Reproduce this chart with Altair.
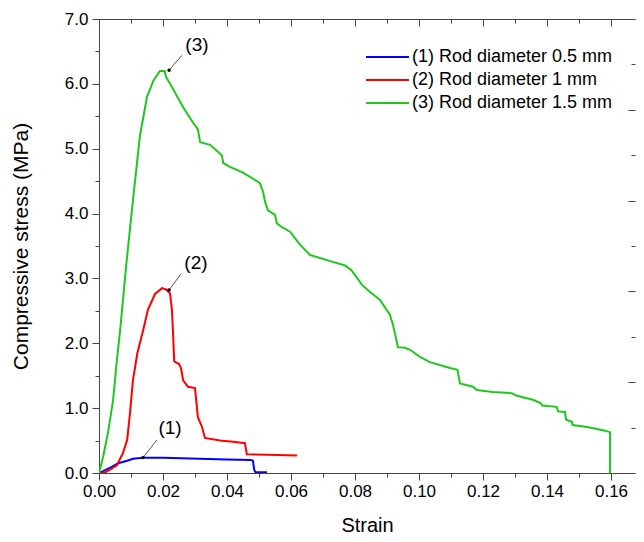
import altair as alt
import pandas as pd

FONT = "Liberation Sans"

series_names = ["(1) Rod diameter 0.5 mm", "(2) Rod diameter 1 mm", "(3) Rod diameter 1.5 mm"]
series_colors = ["#0000ff", "#ff0000", "#1ec81e"]

# (1) Rod diameter 0.5 mm
blue_strain = [0, 0.0034, 0.006, 0.0088, 0.0106, 0.0138, 0.02, 0.0313, 0.04, 0.0475, 0.0481, 0.0485, 0.0489, 0.0525]
blue_stress = [0, 0.08, 0.15, 0.19, 0.22, 0.235, 0.235, 0.22, 0.21, 0.2, 0.19, 0.05, 0.01, 0.01]

# (2) Rod diameter 1 mm
red_strain = [0, 0.002, 0.0034, 0.0056, 0.0075, 0.0088, 0.0097, 0.0106, 0.012, 0.0138,
              0.0153, 0.0175, 0.0197, 0.021, 0.0222, 0.0228, 0.0231, 0.0235, 0.025, 0.0256,
              0.0263, 0.0278, 0.03, 0.0309, 0.0322, 0.0331, 0.0378, 0.0419, 0.0456, 0.0462,
              0.0525, 0.0619]
red_stress = [0, 0.01, 0.05, 0.12, 0.31, 0.51, 0.93, 1.43, 1.85, 2.2,
              2.52, 2.76, 2.85, 2.83, 2.77, 2.51, 2.2, 1.72, 1.68, 1.62,
              1.43, 1.33, 1.31, 0.86, 0.71, 0.54, 0.5, 0.48, 0.46, 0.29,
              0.28, 0.27]

# (3) Rod diameter 1.5 mm
green_strain = [0, 0.0013, 0.0028, 0.0044, 0.0055, 0.0066, 0.0085, 0.0106, 0.0128,
                0.015, 0.017, 0.019, 0.0205, 0.021, 0.0219, 0.0263, 0.0294, 0.0309, 0.0316,
                0.0347, 0.0384, 0.0388, 0.0409, 0.045, 0.0503, 0.0513, 0.0519, 0.0528, 0.055,
                0.0556, 0.0572, 0.0597, 0.0628, 0.066, 0.072, 0.0769, 0.0788, 0.080, 0.0822,
                0.0847, 0.0878, 0.0909, 0.0919, 0.0934, 0.0955, 0.0972, 0.1003, 0.1034, 0.1097,
                0.112, 0.1128, 0.1169, 0.118, 0.123, 0.129, 0.1306, 0.1356, 0.138, 0.1385,
                0.143, 0.1435, 0.1456, 0.146, 0.1478, 0.148, 0.1525, 0.1575, 0.1597, 0.1597]
green_stress = [0, 0.25, 0.62, 1.12, 1.7, 2.2, 3.2, 4.2, 5.2,
                5.8, 6.05, 6.2, 6.2, 6.1, 6.03, 5.64, 5.4, 5.3, 5.1,
                5.06, 4.9, 4.78, 4.72, 4.63, 4.47, 4.33, 4.18, 4.05, 3.98,
                3.85, 3.79, 3.72, 3.52, 3.36, 3.27, 3.2, 3.13, 3.05, 2.9,
                2.79, 2.67, 2.44, 2.28, 1.94, 1.93, 1.9, 1.79, 1.71, 1.62,
                1.59, 1.38, 1.33, 1.28, 1.25, 1.23, 1.19, 1.13, 1.08, 1.04,
                1.02, 0.95, 0.94, 0.82, 0.79, 0.74, 0.71, 0.66, 0.63, 0]

# annotations
annot_labels = ["(1)", "(2)", "(3)"]
annot_point_strain = [0.0138, 0.0219, 0.0219]
annot_point_stress = [0.24, 2.82, 6.21]
annot_lead_strain = [0.0181, 0.0256, 0.0259]
annot_lead_stress = [0.51, 3.07, 6.44]
annot_text_strain = [0.0222, 0.0303, 0.0306]
annot_text_stress = [0.69, 3.24, 6.60]

# ticks
x_ticks = [0, 0.01, 0.02, 0.03, 0.04, 0.05, 0.06, 0.07, 0.08, 0.09,
           0.10, 0.11, 0.12, 0.13, 0.14, 0.15, 0.16]
x_major = [0, 0.02, 0.04, 0.06, 0.08, 0.10, 0.12, 0.14, 0.16]
x_minor = [0.01, 0.03, 0.05, 0.07, 0.09, 0.11, 0.13, 0.15]
y_ticks = [0, 0.5, 1, 1.5, 2, 2.5, 3, 3.5, 4, 4.5, 5, 5.5, 6, 6.5, 7]
right_major = [0, 1.4, 2.8, 4.2, 5.6, 7.0]
right_minor = [0.7, 2.1, 3.5, 4.9, 6.3]

rows = []
for name, xs_, ys_ in [(series_names[0], blue_strain, blue_stress),
                       (series_names[1], red_strain, red_stress),
                       (series_names[2], green_strain, green_stress)]:
    for i, (a, b) in enumerate(zip(xs_, ys_)):
        rows.append({"series": name, "strain": a, "stress": b, "idx": i})
df = pd.DataFrame(rows)

ann = pd.DataFrame({
    "label": annot_labels,
    "px": annot_point_strain, "py": annot_point_stress,
    "lx": annot_lead_strain, "ly": annot_lead_stress,
    "tx": annot_text_strain, "ty": annot_text_stress,
})

xs = alt.Scale(domain=[0, 0.1675], nice=False, zero=False)
ys = alt.Scale(domain=[0, 7], nice=False, zero=False)
AX = "#444444"

x_axis = alt.Axis(
    values=x_ticks,
    labelExpr="round(datum.value*100) % 2 == 0 ? format(datum.value, '.2f') : ''",
    tickSize={"condition": {"test": "round(datum.value*100) % 2 == 0", "value": 7}, "value": 4},
    title="Strain", titleFont=FONT, titleFontSize=20, titleFontWeight="normal", titleColor="black",
    titlePadding=16,
    labelFont=FONT, labelFontSize=17, labelColor="black", labelPadding=3,
    labelFlush=False, labelOverlap=False,
    domainColor=AX, tickColor=AX, grid=False,
)
y_axis = alt.Axis(
    values=y_ticks,
    labelExpr="round(datum.value*2) % 2 == 0 ? format(datum.value, '.1f') : ''",
    tickSize={"condition": {"test": "round(datum.value*2) % 2 == 0", "value": 7}, "value": 4},
    title="Compressive stress (MPa)", titleFont=FONT, titleFontSize=21, titleFontWeight="normal",
    titleColor="black", titlePadding=33,
    labelFont=FONT, labelFontSize=17, labelColor="black", labelPadding=4,
    labelFlush=False, labelOverlap=False,
    domainColor=AX, tickColor=AX, grid=False,
)

lines = alt.Chart(df).mark_line(strokeWidth=2, clip=True).encode(
    x=alt.X("strain:Q", scale=xs, axis=x_axis),
    y=alt.Y("stress:Q", scale=ys, axis=y_axis),
    color=alt.Color("series:N", scale=alt.Scale(domain=series_names, range=series_colors),
                    legend=alt.Legend(title=None, orient="none", legendX=263, legendY=29,
                                      symbolType="M-1,0H7.6", symbolSize=100, symbolStrokeWidth=2,
                                      labelFont=FONT, labelFontSize=18, labelColor="black",
                                      labelOffset=32, labelLimit=0, rowPadding=5, padding=0)),
    order=alt.Order("idx:Q"),
)

base_ann = alt.Chart(ann)
leaders = base_ann.mark_rule(color="#555555", strokeWidth=1).encode(
    x=alt.X("px:Q", scale=xs, axis=None), y=alt.Y("py:Q", scale=ys, axis=None),
    x2="lx:Q", y2="ly:Q",
)
dots = base_ann.mark_circle(size=12, color="black", opacity=1).encode(
    x=alt.X("px:Q", scale=xs, axis=None), y=alt.Y("py:Q", scale=ys, axis=None),
)
texts = base_ann.mark_text(font=FONT, fontSize=19, color="black", align="center", baseline="middle").encode(
    x=alt.X("tx:Q", scale=xs, axis=None), y=alt.Y("ty:Q", scale=ys, axis=None),
    text="label:N",
)

def frame_axis(orient, values=None, offset=0, tick=0, domain=False):
    kw = dict(orient=orient, labels=False, title=None, grid=False, domain=domain,
              domainColor=AX, tickColor=AX, offset=offset)
    if values is None:
        kw["ticks"] = False
    else:
        kw["values"] = values
        kw["tickSize"] = tick
    return alt.Axis(**kw)

invA = base_ann.mark_point(opacity=0).encode(
    x=alt.X("px:Q", scale=xs, axis=frame_axis("top", domain=True)),
    y=alt.Y("py:Q", scale=ys, axis=frame_axis("right", right_major, -7, 7)),
)
invB = base_ann.mark_point(opacity=0).encode(
    x=alt.X("px:Q", scale=xs, axis=frame_axis("top", x_major, -7, 7)),
    y=alt.Y("py:Q", scale=ys, axis=frame_axis("right", right_minor, -4, 4)),
)
invC = base_ann.mark_point(opacity=0).encode(
    x=alt.X("px:Q", scale=xs, axis=frame_axis("top", x_minor, -4, 4)),
    y=alt.Y("py:Q", scale=ys, axis=None),
)

chart = alt.layer(lines, leaders, dots, texts, invA, invB, invC).resolve_axis(
    x="independent", y="independent"
).properties(
    width=536, height=454,
    padding={"left": 91, "top": 11, "right": 1, "bottom": 61},
    autosize=alt.AutoSizeParams(type="none"),
).configure(font=FONT).configure_view(stroke=None)

chart.save("out.html", embed_options={"renderer": "svg", "actions": False})
